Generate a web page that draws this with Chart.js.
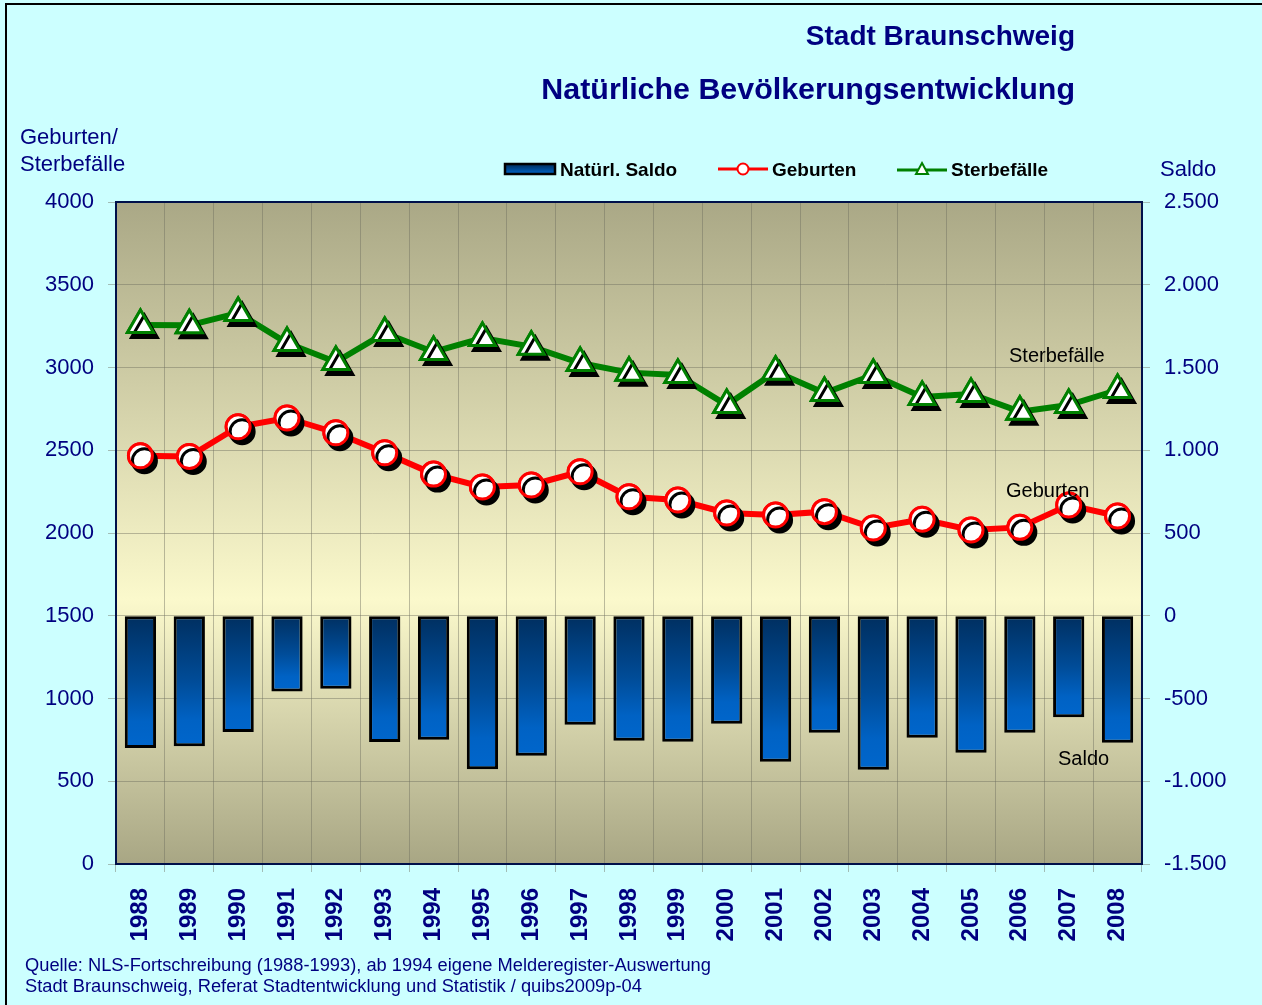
<!DOCTYPE html>
<html>
<head>
<meta charset="utf-8">
<script src="https://cdn.jsdelivr.net/npm/chart.js@4"></script>
<style>
    body { margin: 0; background: #ccffff; font-family: "Liberation Sans", Arial, sans-serif; }
    #frame { position: absolute; left: 5px; top: 3px; width: 1262px; height: 1010px; border-left: 2px solid #000; border-top: 2px solid #000; }
    #wrap { position: absolute; left: 0; top: 0; width: 1262px; height: 1005px; }
    .txt { position: absolute; line-height: 1; white-space: nowrap; }
    .navy { color: #000080; }
    .title { font-weight: bold; right: 187px; text-align: right; }
    .leg { font-weight: bold; font-size: 19px; color: #000; top: 160px; }
    .note { font-size: 20px; color: #000; }
    .src { font-size: 18.3px; left: 25px; }
    svg { position: absolute; }
</style>
</head>
<body>
<div id="frame"></div>
<div id="wrap"><canvas id="chart" width="1262" height="1005"></canvas></div>

<div class="txt navy title" style="top:22px;font-size:28px">Stadt Braunschweig</div>
<div class="txt navy title" style="top:73px;font-size:30.4px">Natürliche Bevölkerungsentwicklung</div>

<div class="txt navy" style="left:20px;top:126px;font-size:22px">Geburten/</div>
<div class="txt navy" style="left:20px;top:153px;font-size:22px">Sterbefälle</div>
<div class="txt navy" style="left:1160px;top:158px;font-size:22px">Saldo</div>

<svg style="left:503px;top:162px" width="54" height="14">
    <defs>
        <linearGradient id="lg" x1="0" y1="0" x2="0" y2="1">
            <stop offset="0" stop-color="#002a55"/>
            <stop offset="1" stop-color="#0066cc"/>
        </linearGradient>
    </defs>
    <rect x="2" y="2" width="50" height="10" fill="url(#lg)" stroke="#000" stroke-width="2.5"/>
</svg>
<div class="txt leg" style="left:560px">Natürl. Saldo</div>
<svg style="left:716px;top:160px" width="54" height="18">
    <line x1="2" y1="9" x2="52" y2="9" stroke="#ff0000" stroke-width="3"/>
    <circle cx="27" cy="9" r="5.5" fill="#fff" stroke="#ff0000" stroke-width="2"/>
</svg>
<div class="txt leg" style="left:772px">Geburten</div>
<svg style="left:895px;top:160px" width="54" height="18">
    <line x1="2" y1="10" x2="52" y2="10" stroke="#008000" stroke-width="3"/>
    <polygon points="27,3 33,14 21,14" fill="#fff" stroke="#008000" stroke-width="2"/>
</svg>
<div class="txt leg" style="left:951px">Sterbefälle</div>

<div class="txt note" style="left:1009px;top:345px">Sterbefälle</div>
<div class="txt note" style="left:1006px;top:480px">Geburten</div>
<div class="txt note" style="left:1058px;top:748px">Saldo</div>

<div class="txt navy src" style="top:956px">Quelle: NLS-Fortschreibung (1988-1993), ab 1994 eigene Melderegister-Auswertung</div>
<div class="txt navy src" style="top:977px">Stadt Braunschweig, Referat Stadtentwicklung und Statistik / quibs2009p-04</div>

<script>
const years = ['1988', '1989', '1990', '1991', '1992', '1993', '1994', '1995', '1996', '1997', '1998',
    '1999', '2000', '2001', '2002', '2003', '2004', '2005', '2006', '2007', '2008'];

const geburten = [2467, 2462, 2642, 2695, 2606, 2485, 2356, 2278, 2290, 2370, 2219,
    2199, 2121, 2109, 2129, 2030, 2083, 2018, 2034, 2169, 2103];

const sterbefaelle = [3257, 3255, 3329, 3148, 3033, 3208, 3094, 3178, 3126, 3027, 2969,
    2955, 2773, 2975, 2846, 2955, 2822, 2840, 2733, 2773, 2864];

const saldo = [-799, -789, -702, -458, -441, -763, -749, -927, -846, -659, -755,
    -761, -653, -882, -707, -930, -737, -828, -707, -614, -767];

const navy = '#000080';
const gridColor = 'rgba(110,110,95,0.45)';

function dots(v) {
    return String(v).replace(/\B(?=(\d{3})+(?!\d))/g, '.');
}

// olive -> light yellow -> olive behind the plot
const plotBackground = {
    id: 'plotBackground',
    beforeDraw(chart) {
        const { ctx, chartArea: a } = chart;
        const g = ctx.createLinearGradient(0, a.top, 0, a.bottom);
        g.addColorStop(0, 'rgb(170,168,134)');
        g.addColorStop(0.6, 'rgb(251,249,204)');
        g.addColorStop(1, 'rgb(168,166,132)');
        ctx.save();
        ctx.fillStyle = g;
        ctx.fillRect(a.left, a.top, a.right - a.left, a.bottom - a.top);
        ctx.restore();
    },
    afterDraw(chart) {
        const { ctx, chartArea: a } = chart;
        ctx.save();
        ctx.strokeStyle = '#00104a';
        ctx.lineWidth = 2;
        ctx.strokeRect(a.left, a.top, a.right - a.left, a.bottom - a.top);
        ctx.restore();
    }
};

// markers get a black drop shadow, the lines themselves do not:
// draw the points once more with a shadow after the dataset
const markerShadow = {
    id: 'markerShadow',
    afterDatasetDraw(chart, args) {
        if (args.meta.type !== 'line') return;
        const ctx = chart.ctx;
        ctx.save();
        ctx.shadowColor = '#000';
        ctx.shadowBlur = 0;
        ctx.shadowOffsetX = 4;
        ctx.shadowOffsetY = 5;
        args.meta.data.forEach(p => p.draw(ctx, chart.chartArea));
        ctx.restore();
    }
};

function barFill(c) {
    const chart = c.chart;
    if (!chart.chartArea || c.raw === undefined) return '#0058b0';
    const s = chart.scales.y2;
    const g = chart.ctx.createLinearGradient(0, s.getPixelForValue(0), 0, s.getPixelForValue(c.raw));
    g.addColorStop(0, '#002f60');
    g.addColorStop(0.5, '#004c98');
    g.addColorStop(0.8, '#0062c4');
    g.addColorStop(1, '#0066cc');
    return g;
}

const tickFont = { family: 'Liberation Sans', size: 22 };

new Chart(document.getElementById('chart'), {
    data: {
        labels: years,
        datasets: [
            {
                type: 'bar',
                label: 'Natürl. Saldo',
                data: saldo,
                yAxisID: 'y2',
                backgroundColor: barFill,
                borderColor: '#000',
                borderWidth: 3,
                borderSkipped: false,
                barPercentage: 0.64,
                categoryPercentage: 1,
                order: 3
            },
            {
                type: 'line',
                label: 'Geburten',
                data: geburten,
                yAxisID: 'y',
                borderColor: '#ff0000',
                borderWidth: 6,
                pointStyle: 'circle',
                pointRadius: 12,
                pointBorderWidth: 3,
                pointBackgroundColor: '#fff',
                pointBorderColor: '#ff0000',
                tension: 0,
                order: 2
            },
            {
                type: 'line',
                label: 'Sterbefälle',
                data: sterbefaelle,
                yAxisID: 'y',
                borderColor: '#008000',
                borderWidth: 6,
                pointStyle: 'triangle',
                pointRadius: 15,
                pointBorderWidth: 3,
                pointBackgroundColor: '#fff',
                pointBorderColor: '#008000',
                tension: 0,
                order: 1
            }
        ]
    },
    options: {
        responsive: false,
        animation: false,
        layout: { padding: { top: 202, left: 0, right: 0, bottom: 0 } },
        plugins: {
            legend: { display: false },
            tooltip: { enabled: false }
        },
        scales: {
            x: {
                offset: true,
                grid: { color: gridColor, tickLength: 8, offset: true },
                border: { display: false },
                ticks: {
                    color: navy,
                    font: { family: 'Liberation Sans', size: 24, weight: 'bold' },
                    minRotation: 90,
                    maxRotation: 90,
                    padding: 16
                },
                afterFit: s => { s.height = 141; }
            },
            y: {
                position: 'left',
                min: 0,
                max: 4000,
                grid: { color: gridColor, tickLength: 8 },
                border: { display: false },
                ticks: { stepSize: 500, color: navy, font: tickFont, padding: 14, callback: v => String(v) },
                afterFit: s => { s.width = 116; }
            },
            y2: {
                position: 'right',
                min: -1500,
                max: 2500,
                grid: { drawOnChartArea: false, color: gridColor, tickLength: 8 },
                border: { display: false },
                ticks: { stepSize: 500, color: navy, font: tickFont, padding: 14, callback: v => dots(v) },
                afterFit: s => { s.width = 120; }
            }
        }
    },
    plugins: [plotBackground, markerShadow]
});
</script>
</body>
</html>
